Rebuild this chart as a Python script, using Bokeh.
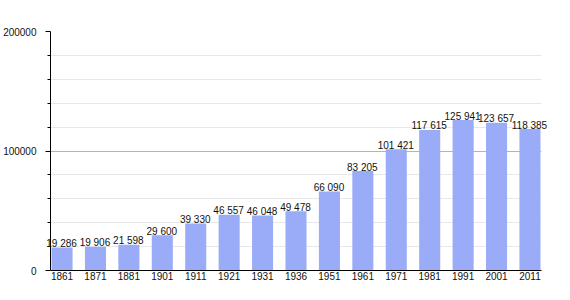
from bokeh.plotting import figure
from bokeh.models import ColumnDataSource, Range1d, FixedTicker, HTMLLabelSet
from bokeh.core.properties import value
from bokeh.embed import file_html
from bokeh.resources import INLINE

years = ["1861", "1871", "1881", "1901", "1911", "1921", "1931", "1936",
         "1951", "1961", "1971", "1981", "1991", "2001", "2011"]
population = [19286, 19906, 21598, 29600, 39330, 46557, 46048, 49478,
              66090, 83205, 101421, 117615, 125941, 123657, 118385]
y_ticks = [0, 100000, 200000]
y_minor = [20000, 40000, 60000, 80000, 120000, 140000, 160000, 180000]

idx = list(range(len(years)))
labels = ["{:,}".format(v).replace(",", " ") for v in population]
src = ColumnDataSource(dict(x=idx, top=population, label=labels))

bw = 0.63
p = figure(width=570, height=300, output_backend="svg", toolbar_location=None,
           x_range=Range1d(-bw / 2 - 0.03, len(years) - 1 + bw / 2 + 0.03),
           y_range=Range1d(0, 200000),
           min_border_left=50, min_border_right=29, min_border_top=31, min_border_bottom=30)
p.outline_line_color = None
p.background_fill_color = "white"
p.border_fill_color = "white"

p.vbar(x="x", top="top", width=bw, source=src, color="#9aabf7", line_color=None)

lab = HTMLLabelSet(x="x", y="top", text="label", source=src, text_align="center",
                   text_baseline="bottom", text_font_size=value("10px"),
                   text_font=value("Liberation Sans"), text_color="#111111", y_offset=-2)
p.add_layout(lab)

# y axis
p.yaxis.ticker = FixedTicker(ticks=y_ticks, minor_ticks=y_minor)
p.yaxis.major_label_overrides = {t: str(t) for t in y_ticks}
p.yaxis.major_label_text_font = "Liberation Sans"
p.yaxis.major_label_text_font_size = "10px"
p.yaxis.major_label_text_color = "#111111"
p.yaxis.axis_line_color = "black"
p.yaxis.major_tick_line_color = "black"
p.yaxis.major_tick_out = 5
p.yaxis.major_tick_in = 0
p.yaxis.minor_tick_line_color = "black"
p.yaxis.minor_tick_out = 3
p.yaxis.minor_tick_in = 0
p.yaxis.major_label_standoff = 9

# x axis
p.xaxis.ticker = FixedTicker(ticks=idx)
p.xaxis.major_label_overrides = {i: y for i, y in enumerate(years)}
p.xaxis.major_label_text_font = "Liberation Sans"
p.xaxis.major_label_text_font_size = "10px"
p.xaxis.major_label_text_color = "#111111"
p.xaxis.axis_line_color = "black"
p.xaxis.major_tick_line_color = None
p.xaxis.minor_tick_line_color = None
p.xaxis.major_tick_out = 0
p.xaxis.major_label_standoff = 1

# grids
p.xgrid.grid_line_color = None
p.ygrid.grid_line_color = "#b4b4b4"
p.ygrid.minor_grid_line_color = "#e8e8e8"
p.ygrid.level = "underlay"

open("out.html", "w").write(file_html(p, INLINE))
